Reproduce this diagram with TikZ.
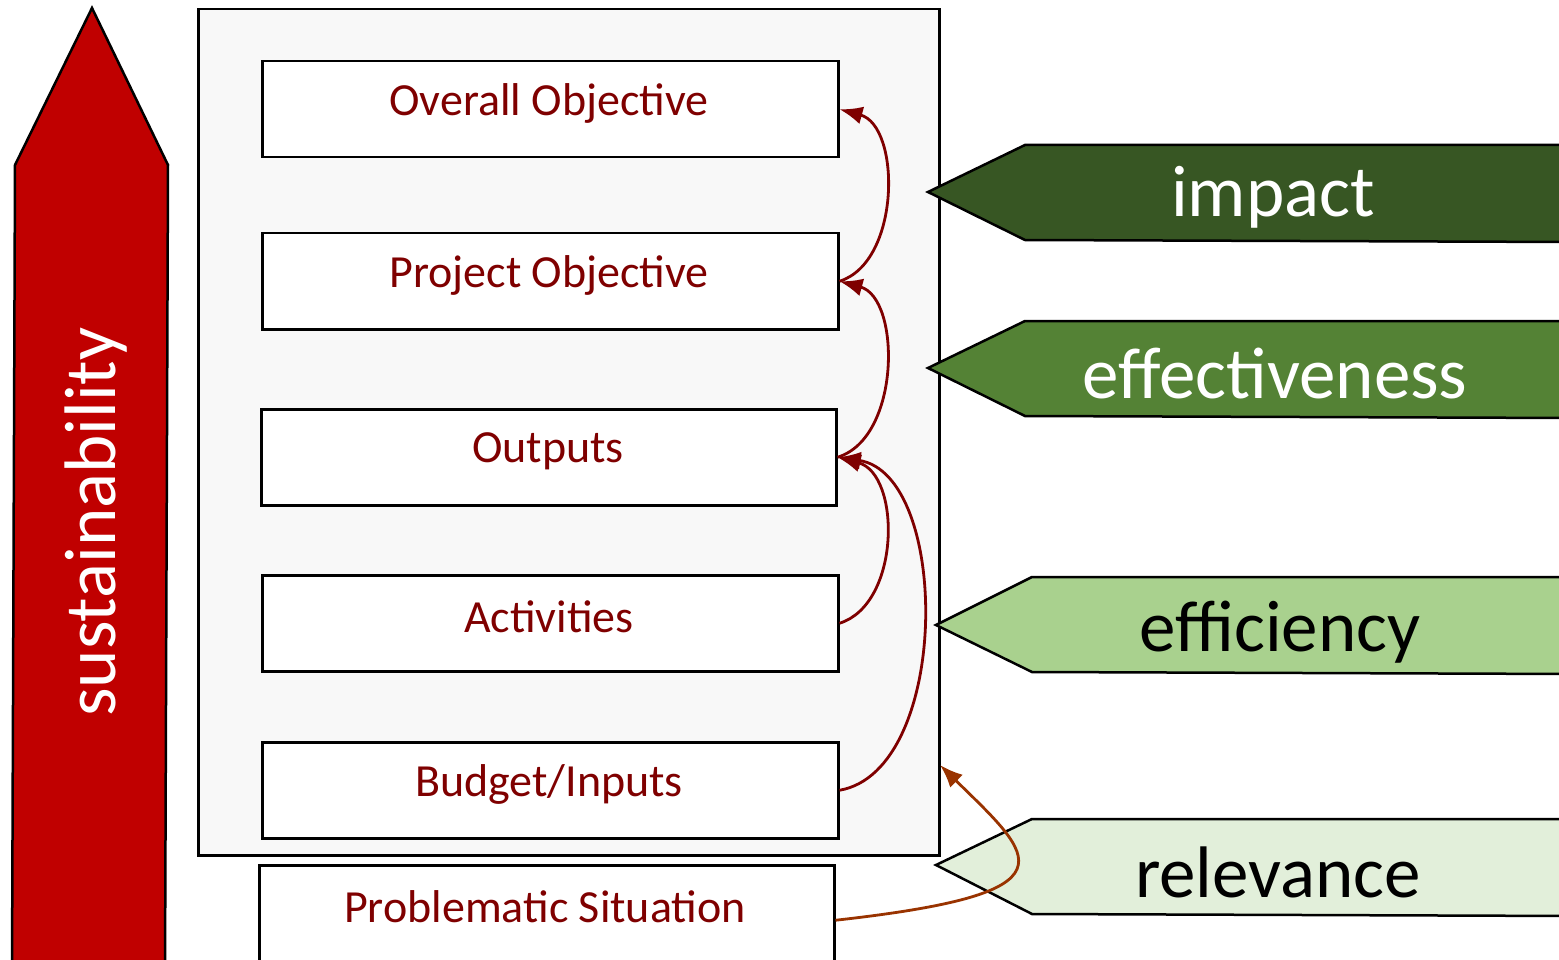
\documentclass[tikz,border=0pt]{standalone}
\usepackage{fontspec}
\setmainfont{Carlito}
\usetikzlibrary{arrows.meta}
\definecolor{boxred}{HTML}{7F0000}
\definecolor{susred}{HTML}{C00000}
\definecolor{relbrown}{HTML}{993300}
\definecolor{gA}{HTML}{375623}
\definecolor{gB}{HTML}{548235}
\definecolor{gC}{HTML}{A9D18E}
\definecolor{gD}{HTML}{E2EFDA}
\definecolor{panel}{HTML}{F8F8F8}
\tikzset{
  lfbox/.style={draw=black, line width=2.5pt, fill=white, rectangle, inner sep=0pt},
  lftext/.style={text=boxred, font=\fontsize{46}{50}\selectfont, inner sep=0pt},
  bigtext/.style={font=\fontsize{73}{80}\selectfont, inner sep=0pt},
  pent/.style={draw=black, line width=2.5pt, line join=miter},
  curv/.style={draw=boxred, line width=2.8pt, -{Latex[length=23pt,width=18pt]}},
  relcurv/.style={draw=relbrown, line width=2.8pt, -{Latex[length=23pt,width=18pt]}}
}
\begin{document}
\begin{tikzpicture}[x=1pt,y=-1pt]
\useasboundingbox (0,0) rectangle (1559,960);
% sustainability arrow
\draw[fill=susred, line width=2.5pt, line join=miter] (12,975) -- (15,165) -- (92,8) -- (168,165) -- (165,975) -- cycle;
\node[bigtext, text=white, rotate=90] (sus) at (96,522) {sustainability};
% panel
\node[draw=black, line width=2.5pt, fill=panel, rectangle, minimum width=741pt, minimum height=846pt, inner sep=0pt, anchor=north west] (panel) at (197,8) {};
% boxes
\node[lfbox, minimum width=576pt, minimum height=96pt, anchor=north west] (ov) at (261,60) {};
\node[lfbox, minimum width=576pt, minimum height=96pt, anchor=north west] (pj) at (261,232) {};
\node[lfbox, minimum width=575pt, minimum height=96pt, anchor=north west] (op) at (260,408) {};
\node[lfbox, minimum width=576pt, minimum height=96pt, anchor=north west] (ac) at (261,574) {};
\node[lfbox, minimum width=576pt, minimum height=96pt, anchor=north west] (bu) at (261,741) {};
\node[lfbox, minimum width=575pt, minimum height=110pt, anchor=north west] (ps) at (258,864) {};
\node[lftext] (ovt) at (549,103) {Overall Objective};
\node[lftext] (pjt) at (549,275) {Project Objective};
\node[lftext] (opt) at (548,451) {Outputs};
\node[lftext] (act) at (549,617) {Activities};
\node[lftext] (but) at (549,784) {Budget/Inputs};
\node[lftext] (pst) at (545,907) {Problematic Situation};
% curved arrows
\draw[curv] (pj.east) .. controls (901,262) and (901,126) .. (ov.east);
\draw[curv] (op.east) .. controls (901,438) and (901,298) .. (pj.east);
\draw[curv] (ac.east) .. controls (901,604) and (901,474) .. (op.east);
\draw[curv] (bu.east) .. controls (951,771) and (951,474) .. (op.east);
% pentagons
\draw[pent, fill=gA] (1575,145) -- (1025,145) -- (928,192) -- (1025,240) -- (1575,242);
\node[bigtext, text=white] (imp) at (1273,197) {impact};
\draw[pent, fill=gB] (1575,321) -- (1025,321) -- (928,368) -- (1025,416) -- (1575,418);
\node[bigtext, text=white] (eff) at (1275,374) {effectiveness};
\draw[pent, fill=gC] (1575,577) -- (1032,577) -- (936,625) -- (1032,672) -- (1575,674);
\node[bigtext, text=black] (efc) at (1280,632) {efficiency};
\draw[pent, fill=gD] (1575,819) -- (1032,819) -- (936,865) -- (1032,914) -- (1575,916);
\node[bigtext, text=black] (rel) at (1278,872) {relevance};
% relevance connector
\coordinate (relend) at (940,765);
\draw[relcurv] (ps.east) .. controls (1080,893) and (1035,858) .. (relend);
\end{tikzpicture}
\end{document}
